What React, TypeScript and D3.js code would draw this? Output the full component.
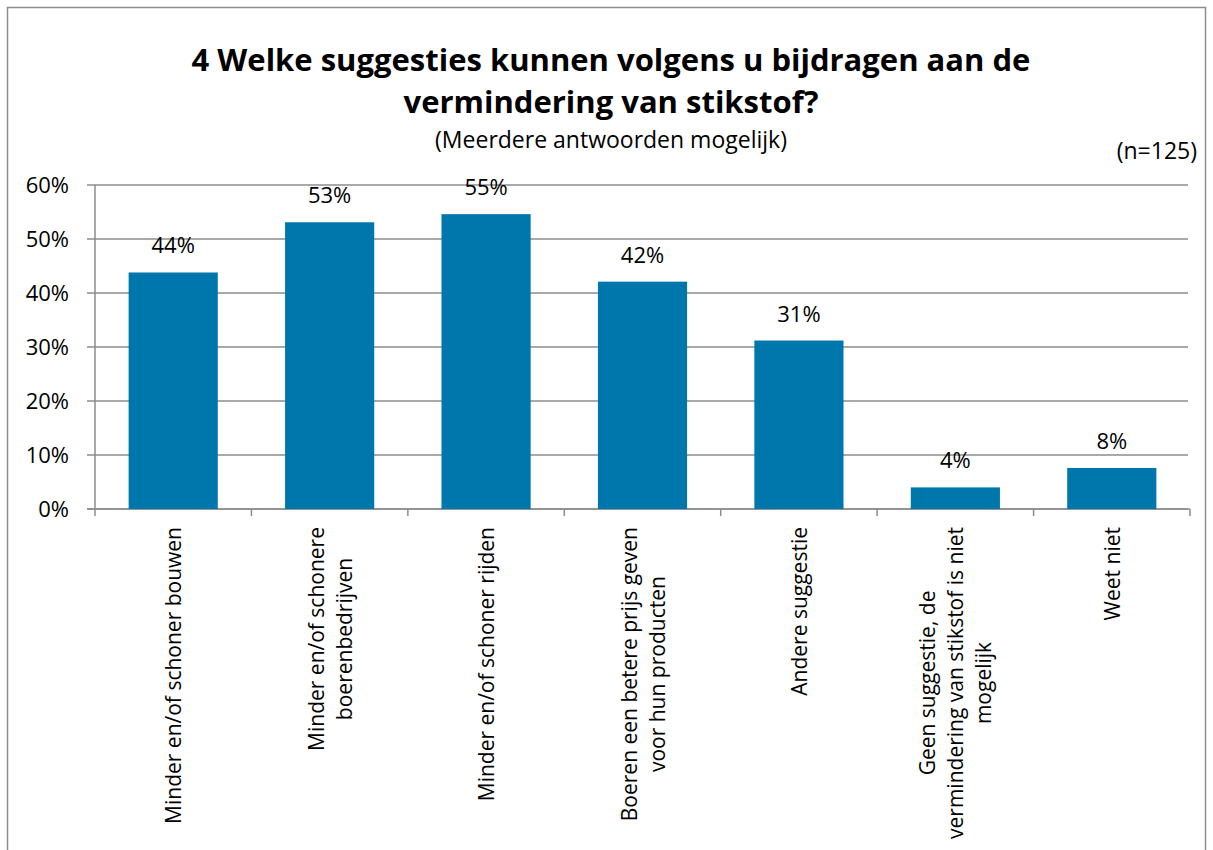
import React, { useEffect, useRef } from "react";
import * as d3 from "d3";

const categories: string[][] = [
  ["Minder en/of schoner bouwen"],
  ["Minder en/of schonere", "boerenbedrijven"],
  ["Minder en/of schoner rijden"],
  ["Boeren een betere prijs geven", "voor hun producten"],
  ["Andere suggestie"],
  ["Geen suggestie, de", "vermindering van stikstof is niet", "mogelijk"],
  ["Weet niet"],
];
const values: number[] = [0.438, 0.531, 0.546, 0.421, 0.312, 0.04, 0.076];
const valueLabels: string[] = ["44%", "53%", "55%", "42%", "31%", "4%", "8%"];
const yTicks: number[] = [0, 0.1, 0.2, 0.3, 0.4, 0.5, 0.6];
const titleLines: string[] = [
  "4 Welke suggesties kunnen volgens u bijdragen aan de",
  "vermindering van stikstof?",
];
const subtitle = "(Meerdere antwoorden mogelijk)";
const sampleNote = "(n=125)";

const W = 1213;
const H = 850;
const FONT = "'Open Sans', 'Noto Sans', sans-serif";
const BAR = "#0077ac";
const GRID = "#8c8c8c";

export default function App() {
  const ref = useRef<SVGSVGElement | null>(null);

  useEffect(() => {
    const svg = d3.select(ref.current);
    svg.selectAll("*").remove();

    const left = 95, right = 1190, top = 185, bottom = 509;
    const x = d3
      .scaleBand<number>()
      .domain(d3.range(categories.length))
      .range([left, right])
      .paddingInner(0.43)
      .paddingOuter(0.215);
    const y = d3.scaleLinear().domain([0, 0.6]).range([bottom, top]);

    svg
      .append("rect")
      .attr("x", 7.5)
      .attr("y", 7.5)
      .attr("width", 1198)
      .attr("height", 900)
      .attr("fill", "white")
      .attr("stroke", "#8c8c8c")
      .attr("stroke-width", 1.5);

    // title
    titleLines.forEach((t, i) => {
      svg
        .append("text")
        .attr("x", 611)
        .attr("y", 71 + i * 42)
        .attr("text-anchor", "middle")
        .attr("font-family", FONT)
        .attr("font-weight", "bold")
        .attr("font-size", 31)
        .attr("fill", "#000")
        .text(t);
    });
    svg
      .append("text")
      .attr("x", 611)
      .attr("y", 148)
      .attr("text-anchor", "middle")
      .attr("font-family", FONT)
      .attr("font-size", 23)
      .text(subtitle);
    svg
      .append("text")
      .attr("x", 1197)
      .attr("y", 159)
      .attr("text-anchor", "end")
      .attr("font-family", FONT)
      .attr("font-size", 23)
      .text(sampleNote);

    // gridlines + y ticks
    const g = svg.append("g");
    yTicks.forEach((t) => {
      g.append("line")
        .attr("x1", left - 8)
        .attr("x2", right - 2)
        .attr("y1", y(t))
        .attr("y2", y(t))
        .attr("stroke", GRID)
        .attr("stroke-width", 1.5);
      g.append("text")
        .attr("x", 69)
        .attr("y", y(t))
        .attr("dy", "0.36em")
        .attr("text-anchor", "end")
        .attr("font-family", FONT)
        .attr("font-size", 22)
        .text(d3.format(".0%")(t));
    });
    // y axis line
    g.append("line")
      .attr("x1", left)
      .attr("x2", left)
      .attr("y1", top)
      .attr("y2", bottom)
      .attr("stroke", GRID)
      .attr("stroke-width", 1.5);

    // bars
    svg
      .append("g")
      .selectAll("rect")
      .data(values)
      .join("rect")
      .attr("x", (_, i) => x(i)!)
      .attr("width", x.bandwidth())
      .attr("y", (d) => y(d))
      .attr("height", (d) => y(0) - y(d))
      .attr("fill", BAR);

    // value labels
    svg
      .append("g")
      .selectAll("text")
      .data(values)
      .join("text")
      .attr("x", (_, i) => x(i)! + x.bandwidth() / 2)
      .attr("y", (d) => y(d) - 19)
      .attr("text-anchor", "middle")
      .attr("font-family", FONT)
      .attr("font-size", 22)
      .text((_, i) => valueLabels[i]);

    // x axis line + ticks
    const step = x.step();
    g.append("line")
      .attr("x1", left - 8)
      .attr("x2", right)
      .attr("y1", bottom)
      .attr("y2", bottom)
      .attr("stroke", GRID)
      .attr("stroke-width", 1.5);
    d3.range(categories.length + 1).forEach((i) => {
      const xx = left + i * step;
      g.append("line")
        .attr("x1", xx)
        .attr("x2", xx)
        .attr("y1", bottom)
        .attr("y2", bottom + 7)
        .attr("stroke", GRID)
        .attr("stroke-width", 1.5);
    });

    // x labels, rotated
    const lineH = 28;
    categories.forEach((lines, i) => {
      const cx = x(i)! + x.bandwidth() / 2;
      const grp = svg.append("g");
      const texts = lines.map((l) =>
        grp
          .append("text")
          .attr("text-anchor", "middle")
          .attr("font-family", FONT)
          .attr("font-size", 21)
          .text(l)
      );
      const maxW = d3.max(texts, (t) => (t.node() as SVGTextElement).getComputedTextLength()) || 0;
      const cy = 527 + maxW / 2;
      const n = lines.length;
      texts.forEach((t, j) => {
        const off = (j - (n - 1) / 2) * lineH;
        const px = cx + off + 8;
        t.attr("transform", `translate(${px},${cy}) rotate(-90)`);
      });
    });
  }, []);

  return (
    <svg
      ref={ref}
      width={W}
      height={H}
      style={{ position: "absolute", left: 0, top: 0, background: "white" }}
    />
  );
}
